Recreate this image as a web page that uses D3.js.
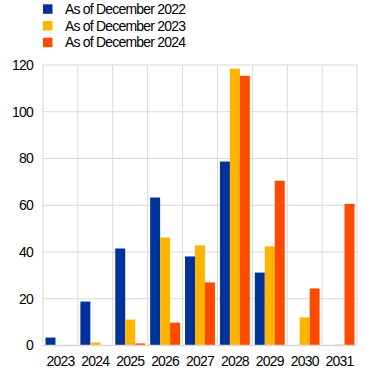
<!DOCTYPE html>
<html>
<head>
<meta charset="utf-8">
<script src="https://cdn.jsdelivr.net/npm/d3@7"></script>
<style>
    body { margin: 0; background: #fff; }
    svg { display: block; font-family: "Liberation Sans", Arial, sans-serif; }
</style>
</head>
<body>
<div id="chart"></div>
<script>
'use strict';

// data
const years = ['2023', '2024', '2025', '2026', '2027', '2028', '2029', '2030', '2031'];
const seriesNames = ['As of December 2022', 'As of December 2023', 'As of December 2024'];
const seriesColors = ['#003299', '#ffb400', '#ff4b00'];
const dec2022 = [3.4, 18.8, 41.5, 63.3, 38.1, 78.7, 31.2, 0, 0];
const dec2023 = [0, 1.3, 11.1, 46.2, 42.8, 118.4, 42.4, 12.0, 0.4];
const dec2024 = [0, 0, 0.9, 9.8, 27.0, 115.4, 70.5, 24.4, 60.6];
const yTicks = [0, 20, 40, 60, 80, 100, 120];

const seriesValues = [dec2022, dec2023, dec2024];

const width = 372;
const height = 373;
const margin = {top: 65, right: 15, bottom: 27.5, left: 43};

const svg = d3.select('#chart').append('svg')
    .attr('width', width)
    .attr('height', height);

const x0 = d3.scaleBand()
    .domain(years)
    .range([margin.left, width - margin.right])
    .paddingInner(0)
    .paddingOuter(0);

const x1 = d3.scaleBand()
    .domain(d3.range(seriesNames.length))
    .range([0, x0.bandwidth()])
    .paddingInner(0)
    .paddingOuter(0.25);

const y = d3.scaleLinear()
    .domain([0, 120])
    .range([height - margin.bottom, margin.top]);

// grid
const grid = svg.append('g').attr('class', 'grid');
grid.selectAll('line.h').data(yTicks).enter().append('line')
    .attr('class', 'h')
    .attr('x1', margin.left)
    .attr('x2', width - margin.right)
    .attr('y1', d => y(d))
    .attr('y2', d => y(d))
    .attr('stroke', '#d9d9d9')
    .attr('stroke-width', 1);

const vLines = years.map(d => x0(d)).concat([x0(years[years.length - 1]) + x0.bandwidth()]);
grid.selectAll('line.v').data(vLines).enter().append('line')
    .attr('class', 'v')
    .attr('x1', d => d)
    .attr('x2', d => d)
    .attr('y1', y(120))
    .attr('y2', y(0))
    .attr('stroke', '#d9d9d9')
    .attr('stroke-width', 1);

// bars
const groups = svg.append('g').selectAll('g')
    .data(years).enter().append('g')
    .attr('transform', d => `translate(${x0(d)},0)`);

groups.selectAll('rect')
    .data((d, i) => seriesValues.map((vals, s) => ({s: s, v: vals[i]})))
    .enter().append('rect')
    .filter(d => d.v > 0)
    .attr('x', d => x1(d.s))
    .attr('width', x1.bandwidth())
    .attr('y', d => y(d.v))
    .attr('height', d => y(0) - y(d.v))
    .attr('fill', d => seriesColors[d.s]);

// zero line
svg.append('line')
    .attr('x1', margin.left)
    .attr('x2', width - margin.right)
    .attr('y1', y(0))
    .attr('y2', y(0))
    .attr('stroke', '#d9d9d9')
    .attr('stroke-width', 1.5);

// y axis labels
svg.append('g').selectAll('text')
    .data(yTicks).enter().append('text')
    .attr('x', 33)
    .attr('y', d => y(d))
    .attr('dy', '0.35em')
    .attr('text-anchor', 'end')
    .attr('font-size', 14)
    .attr('letter-spacing', -0.8)
    .attr('fill', '#000')
    .text(d => d);

// x axis labels
svg.append('g').selectAll('text')
    .data(years).enter().append('text')
    .attr('x', d => x0(d) + x0.bandwidth() / 2)
    .attr('y', 365.5)
    .attr('text-anchor', 'middle')
    .attr('font-size', 14)
    .attr('letter-spacing', -0.8)
    .attr('fill', '#000')
    .text(d => d);

// legend
const legend = svg.append('g').selectAll('g')
    .data(seriesNames).enter().append('g')
    .attr('transform', (d, i) => `translate(43,${4.3 + i * 16.7})`);

legend.append('rect')
    .attr('width', 9.5)
    .attr('height', 9.5)
    .attr('fill', (d, i) => seriesColors[i]);

legend.append('text')
    .attr('x', 22)
    .attr('y', 9.7)
    .attr('font-size', 14)
    .attr('letter-spacing', -0.8)
    .attr('fill', '#000')
    .text(d => d);
</script>
</body>
</html>
